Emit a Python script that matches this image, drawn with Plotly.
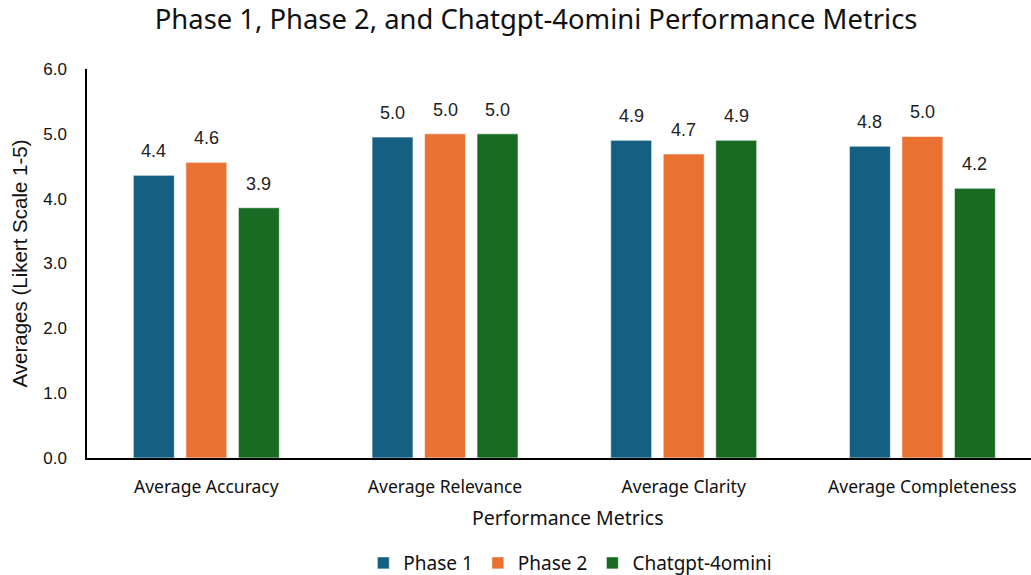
import plotly.graph_objects as go

categories = ["Average Accuracy", "Average Relevance", "Average Clarity", "Average Completeness"]
phase1 = [4.36, 4.95, 4.90, 4.81]
phase2 = [4.56, 5.00, 4.69, 4.96]
chatgpt = [3.86, 5.00, 4.90, 4.16]
series_names = ["Phase 1", "Phase 2", "Chatgpt-4omini"]
colors = ["#156082", "#E97132", "#196B24"]
x_title = "Performance Metrics"
y_title = "Averages (Likert Scale 1-5)"

BARGAP = 0.34
fig = go.Figure()
for name, vals, col in zip(series_names, [phase1, phase2, chatgpt], colors):
    fig.add_trace(go.Bar(
        name=name, x=categories, y=vals,
        marker=dict(color=col, line=dict(color="rgba(255,255,255,0.6)", width=1)),
        text=[f"{v:.1f}" for v in vals], textposition="none",
    ))

# data labels placed above bars (offset to each bar's group slot)
n = len(series_names)
slot = (1 - BARGAP) / n
for i, vals in enumerate([phase1, phase2, chatgpt]):
    off = (i - (n - 1) / 2) * slot
    for j, v in enumerate(vals):
        fig.add_annotation(x=j + off, y=v, text=f"{v:.1f}", showarrow=False,
                           yanchor="bottom", yshift=12, xref="x", yref="y",
                           font=dict(family="Liberation Sans, Arial", size=18, color="#222"))

fig.add_annotation(text=x_title, xref="paper", yref="paper", x=0.5095, y=-0.154,
                   xanchor="center", yanchor="middle", showarrow=False,
                   font=dict(family="Noto Sans", size=19.5, color="#111"))

fig.update_layout(
    width=1031, height=575,
    margin=dict(l=87, r=0, t=69, b=117, autoexpand=False),
    paper_bgcolor="white", plot_bgcolor="white",
    barmode="group", bargap=BARGAP, bargroupgap=0.22,
    title=dict(text="Phase 1, Phase 2, and Chatgpt-4omini Performance Metrics",
               x=0.52, xanchor="center", y=0.967, yanchor="middle",
               font=dict(family="Noto Sans", size=27.4, color="#111")),
    legend=dict(orientation="h", x=0.512, xanchor="center", y=-0.270, yanchor="middle",
                font=dict(family="Noto Sans", size=19, color="#111"),
                itemwidth=30, traceorder="normal"),
    font=dict(family="Noto Sans", color="#111"),
)
fig.update_xaxes(
    type="category",
    range=[-0.5, 3.455], showline=True, linecolor="black", linewidth=1.5, automargin=False,
    ticks="outside", ticklen=12, tickcolor="rgba(0,0,0,0)", tickfont=dict(family="Noto Sans", size=17.5, color="#111"),
)
fig.update_yaxes(
    range=[0, 6], dtick=1, tickformat=".1f", showgrid=False, zeroline=False, automargin=False,
    showline=True, linecolor="black", linewidth=1.5, ticks="",
    ticklabelstandoff=15,
    tickfont=dict(family="Liberation Sans, Arial", size=17, color="#111"),
    title=dict(text=y_title, font=dict(family="Liberation Sans, Arial", size=20.5, color="#111"), standoff=10),
)

fig.write_html("out.html", config={"displayModeBar": False},
               post_script="document.body.style.margin='0';")
